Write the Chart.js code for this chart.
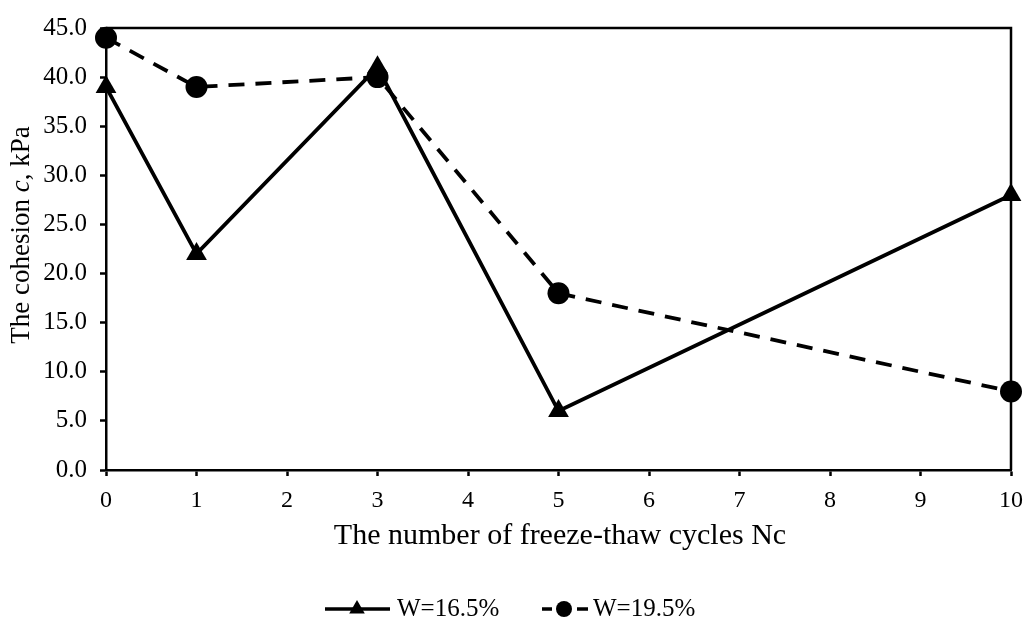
<!DOCTYPE html>
<html>
<head>
<meta charset="utf-8">
<script src="https://cdn.jsdelivr.net/npm/chart.js@4.4.1/dist/chart.umd.min.js"></script>
<style>
  html, body { margin: 0; padding: 0; background: #ffffff; }
  #wrap { width: 1028px; height: 619px; position: relative; }
</style>
</head>
<body>
<div id="wrap"><canvas id="c" width="1028" height="619"></canvas></div>
<script>
// ---- data ----
const cycles = [0, 1, 3, 5, 10];
const cohesionW165 = [39, 22, 41, 6, 28];
const cohesionW195 = [44, 39, 40, 18, 8];
const seriesNames = ['W=16.5%', 'W=19.5%'];
const xTitle = 'The number of freeze-thaw cycles Nc';
const yTitleParts = [['The cohesion ', false], ['c', true], [', kPa', false]];

const FONT = "'Liberation Serif', 'Times New Roman', serif";

function pts(xs, ys) { return xs.map((x, i) => ({ x: x, y: ys[i] })); }

const decor = {
  id: 'decor',
  beforeDatasetsDraw(chart) {
    const { ctx, chartArea: a } = chart;
    ctx.save();
    ctx.strokeStyle = '#000';
    ctx.lineWidth = 2.5;
    ctx.beginPath();
    ctx.moveTo(a.left, a.top);
    ctx.lineTo(a.right, a.top);
    ctx.lineTo(a.right, a.bottom);
    ctx.stroke();
    ctx.restore();
  },
  afterDraw(chart) {
    const { ctx, chartArea: a } = chart;
    ctx.save();
    ctx.fillStyle = '#000';
    // x title
    ctx.font = '30px ' + FONT;
    ctx.textAlign = 'center';
    ctx.textBaseline = 'alphabetic';
    ctx.fillText(xTitle, 560, 544);

    // y title (rotated, mixed italic)
    ctx.save();
    ctx.translate(29, 235);
    ctx.rotate(-Math.PI / 2);
    let total = 0;
    const widths = yTitleParts.map(([t, it]) => {
      ctx.font = (it ? 'italic ' : '') + '27px ' + FONT;
      const w = ctx.measureText(t).width; total += w; return w;
    });
    let cx = -total / 2;
    ctx.textAlign = 'left';
    ctx.textBaseline = 'alphabetic';
    yTitleParts.forEach(([t, it], i) => {
      ctx.font = (it ? 'italic ' : '') + '27px ' + FONT;
      ctx.fillText(t, cx, 0);
      cx += widths[i];
    });
    ctx.restore();

    // legend
    const ly = 609;
    ctx.strokeStyle = '#000';
    ctx.lineWidth = 3.5;
    // item 1: solid line + triangle
    ctx.beginPath();
    ctx.moveTo(325, ly); ctx.lineTo(390, ly); ctx.stroke();
    const tcx = 357, r = 9;
    ctx.beginPath();
    ctx.moveTo(tcx, ly - r);
    ctx.lineTo(tcx + r * Math.sin(2 * Math.PI / 3), ly - r * Math.cos(2 * Math.PI / 3));
    ctx.lineTo(tcx - r * Math.sin(2 * Math.PI / 3), ly - r * Math.cos(2 * Math.PI / 3));
    ctx.closePath(); ctx.fill();
    ctx.font = '25px ' + FONT;
    ctx.textAlign = 'left';
    ctx.textBaseline = 'alphabetic';
    ctx.fillText(seriesNames[0], 397, 616);
    // item 2: dashed line + circle
    const ccx = 564;
    ctx.beginPath();
    ctx.moveTo(ccx - 22, ly); ctx.lineTo(ccx - 12, ly);
    ctx.moveTo(ccx + 13, ly); ctx.lineTo(ccx + 24, ly);
    ctx.stroke();
    ctx.beginPath(); ctx.arc(ccx, ly, 8, 0, Math.PI * 2); ctx.fill();
    ctx.fillText(seriesNames[1], 593, 616);
    ctx.restore();
  }
};

new Chart(document.getElementById('c'), {
  type: 'line',
  data: {
    datasets: [
      {
        label: seriesNames[0],
        data: pts(cycles, cohesionW165),
        borderColor: '#000',
        backgroundColor: '#000',
        borderWidth: 3.8,
        pointStyle: 'triangle',
        pointRadius: 12,
        pointHoverRadius: 12,
        pointBorderWidth: 0,
        tension: 0,
        clip: false
      },
      {
        label: seriesNames[1],
        data: pts(cycles, cohesionW195),
        borderColor: '#000',
        backgroundColor: '#000',
        borderWidth: 3.8,
        borderDash: [16, 11],
        pointStyle: 'circle',
        pointRadius: 11,
        pointHoverRadius: 11,
        pointBorderWidth: 0,
        tension: 0,
        clip: false
      }
    ]
  },
  options: {
    responsive: false,
    animation: false,
    events: [],
    layout: { padding: { top: 20, right: 17, left: 0, bottom: 0 } },
    plugins: { legend: { display: false }, tooltip: { enabled: false } },
    scales: {
      x: {
        type: 'linear',
        min: 0, max: 10,
        afterFit(s) { s.height = 149; s.paddingRight = 0; },
        ticks: { stepSize: 1, color: '#000', font: { family: FONT, size: 24 }, padding: 10, maxRotation: 0 },
        grid: { drawOnChartArea: false, drawTicks: true, tickLength: 6, tickWidth: 2.5, tickColor: '#000' },
        border: { display: true, color: '#000', width: 2.5 }
      },
      y: {
        min: 0, max: 45,
        afterFit(s) { s.width = 106; },
        ticks: { stepSize: 5, color: '#000', font: { family: FONT, size: 25 }, padding: 13,
                 callback: v => Number(v).toFixed(1) },
        grid: { drawOnChartArea: false, drawTicks: true, tickLength: 6, tickWidth: 2.5, tickColor: '#000' },
        border: { display: true, color: '#000', width: 2.5 }
      }
    }
  },
  plugins: [decor]
});
</script>
</body>
</html>
